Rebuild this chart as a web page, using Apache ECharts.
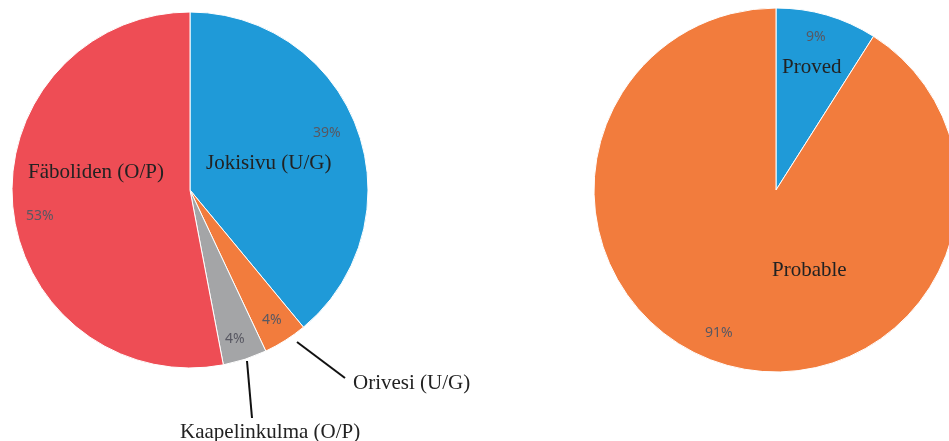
<!DOCTYPE html>
<html>
<head>
<meta charset="utf-8">
<script src="https://cdn.jsdelivr.net/npm/echarts@6/dist/echarts.min.js"></script>
<style>
  html, body { margin: 0; padding: 0; background: #fff; }
  #chart { width: 949px; height: 441px; }
</style>
</head>
<body>
<div id="chart"></div>
<script>
// left pie: mines
const mineNames = ["Jokisivu (U/G)", "Orivesi (U/G)", "Kaapelinkulma (O/P)", "Fäboliden (O/P)"];
const mineValues = [39, 4, 4, 53];
const mineColors = ["#1f9ad8", "#f27c3d", "#a4a5a7", "#ee4d55"];

// right pie: reserve class
const classNames = ["Proved", "Probable"];
const classValues = [9, 91];
const classColors = ["#1f9ad8", "#f27c3d"];

const chart = echarts.init(document.getElementById("chart"));

const nameFont = { fontFamily: "Liberation Serif", fontSize: 21, fill: "#222" };
const pctFont = { fontFamily: "Noto Sans", fontSize: 14, fill: "#585862" };

function pct(v, arr) {
  const total = arr.reduce((a, b) => a + b, 0);
  return Math.round(v / total * 100) + "%";
}

// where each text sits (left pie, right pie)
const mineNamePos = [[206, 163], [353, 383], [180, 432], [28, 172]];
const minePctPos = [[313, 133], [262, 320], [225, 339], [26, 216]];
const classNamePos = [[782, 67], [772, 270]];
const classPctPos = [[806, 37], [705, 333]];

const texts = [];
mineNames.forEach((n, i) => {
  texts.push({ type: "text", z: 100, x: mineNamePos[i][0], y: mineNamePos[i][1], style: Object.assign({ text: n, verticalAlign: "middle" }, nameFont) });
  texts.push({ type: "text", z: 100, x: minePctPos[i][0], y: minePctPos[i][1], style: Object.assign({ text: pct(mineValues[i], mineValues), verticalAlign: "middle" }, pctFont) });
});
classNames.forEach((n, i) => {
  texts.push({ type: "text", z: 100, x: classNamePos[i][0], y: classNamePos[i][1], style: Object.assign({ text: n, verticalAlign: "middle" }, nameFont) });
  texts.push({ type: "text", z: 100, x: classPctPos[i][0], y: classPctPos[i][1], style: Object.assign({ text: pct(classValues[i], classValues), verticalAlign: "middle" }, pctFont) });
});

// leader lines for the two small slices
texts.push({ type: "line", z: 100, shape: { x1: 297, y1: 342, x2: 345, y2: 378 }, style: { stroke: "#111", lineWidth: 2 } });
texts.push({ type: "line", z: 100, shape: { x1: 247, y1: 361, x2: 252, y2: 418 }, style: { stroke: "#111", lineWidth: 2 } });

const option = {
  animation: false,
  backgroundColor: "#fff",
  graphic: { elements: texts },
  series: [
    {
      type: "pie",
      z: 1,
      center: [190, 190],
      radius: 178,
      startAngle: 90,
      clockwise: true,
      label: { show: false },
      labelLine: { show: false },
      itemStyle: { borderColor: "#fff", borderWidth: 1 },
      data: mineNames.map((n, i) => ({ name: n, value: mineValues[i], itemStyle: { color: mineColors[i] } }))
    },
    {
      type: "pie",
      z: 1,
      center: [776, 190],
      radius: 182,
      startAngle: 90,
      clockwise: true,
      label: { show: false },
      labelLine: { show: false },
      itemStyle: { borderColor: "#fff", borderWidth: 1 },
      data: classNames.map((n, i) => ({ name: n, value: classValues[i], itemStyle: { color: classColors[i] } }))
    }
  ]
};
chart.setOption(option);
</script>
</body>
</html>
